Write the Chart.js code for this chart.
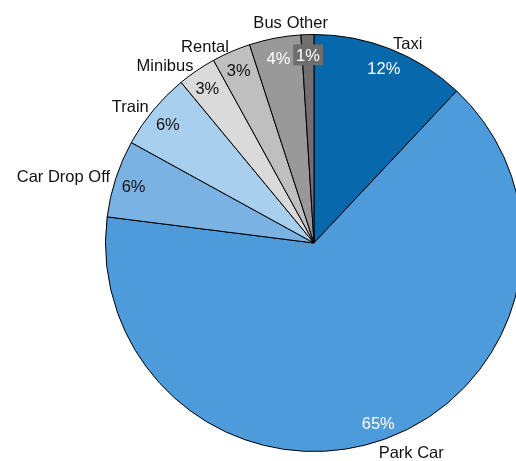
<!DOCTYPE html>
<html>
<head>
<meta charset="utf-8">
<script src="https://cdn.jsdelivr.net/npm/chart.js@4.4.0/dist/chart.umd.min.js"></script>
<style>
    html, body { margin: 0; padding: 0; background: #fff; }
    #wrap { width: 516px; height: 461px; overflow: hidden; position: relative; }
    #modeChart { display: block; }
</style>
</head>
<body>
<div id="wrap"><canvas id="modeChart" width="530" height="461"></canvas></div>
<script>
const categories = ["Taxi", "Park Car", "Car Drop Off", "Train", "Minibus", "Rental", "Bus", "Other"];
const shares = [12, 65, 6, 6, 3, 3, 4, 1];
const sliceColors = ["#0868ac", "#4e9bdc", "#7ab2e3", "#a9cfef", "#dadada", "#bfbfbf", "#999999", "#707070"];
const darkSlices = [true, true, false, false, false, false, true, true];

// ================================
// LABELS PLUGIN
// ================================

// small hand nudges so names don't crowd each other
const nameNudge = {
    "Park Car": [-8, 8],
    "Bus": [8, -10],
    "Other": [0, -6],
};

const pieLabels = {
    id: "pieLabels",
    afterDatasetsDraw(chart) {
        const ctx = chart.ctx;
        const arcs = chart.getDatasetMeta(0).data;

        ctx.save();
        ctx.font = "16.5px 'Liberation Sans', Arial, sans-serif";

        arcs.forEach((arc, i) => {
            const p = arc.getProps(["x", "y", "startAngle", "endAngle", "outerRadius"], true);
            const mid = (p.startAngle + p.endAngle) / 2;
            const cos = Math.cos(mid);
            const sin = Math.sin(mid);

            // percentage inside the slice
            const rIn = p.outerRadius * 0.91;
            const px = p.x + rIn * cos;
            const py = p.y + rIn * sin + 2;
            const txt = shares[i] + "%";

            if (i === categories.length - 1) {
                const w = ctx.measureText(txt).width + 6;
                ctx.fillStyle = "#6e6e6e";
                ctx.fillRect(px - w / 2, py - 11, w, 21);
            }

            ctx.fillStyle = darkSlices[i] ? "#ffffff" : "#111111";
            ctx.textAlign = "center";
            ctx.textBaseline = "middle";
            ctx.fillText(txt, px, py + 1);

            // category name outside
            const rOut = p.outerRadius + 6;
            const nudge = nameNudge[categories[i]] || [0, 0];
            const lx = p.x + rOut * cos + nudge[0];
            const ly = p.y + rOut * sin + nudge[1];

            if (Math.abs(cos) < 0.1) {
                ctx.textAlign = "center";
            } else if (cos > 0) {
                ctx.textAlign = "left";
            } else {
                ctx.textAlign = "right";
            }

            ctx.fillStyle = "#111111";
            ctx.textBaseline = "middle";
            ctx.fillText(categories[i], lx, ly + 1);
        });

        ctx.restore();
    },
};

// ================================
// PIE CHART
// ================================

const modeCtx = document.getElementById("modeChart");

new Chart(modeCtx, {
    type: "pie",

    data: {
        labels: categories,

        datasets: [
            {
                data: shares,

                backgroundColor: sliceColors,

                borderColor: "#000000",

                borderWidth: 1,
            },
        ],
    },

    options: {
        responsive: false,

        animation: false,

        layout: {
            padding: { left: 105, right: 7, top: 34, bottom: 9 },
        },

        plugins: {
            legend: { display: false },
            tooltip: { enabled: false },
        },
    },

    plugins: [pieLabels],
});
</script>
</body>
</html>
